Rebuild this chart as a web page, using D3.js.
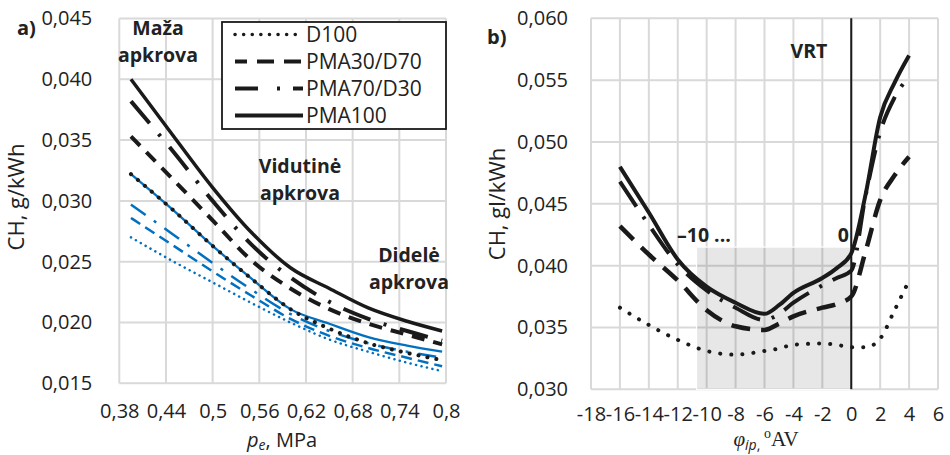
<!DOCTYPE html>
<html>
<head>
<meta charset="utf-8">
<script src="https://cdn.jsdelivr.net/npm/d3@7"></script>
<style>
    body { margin: 0; background: #fff; }
    svg text { font-family: "Open Sans", sans-serif; fill: #222; }
</style>
</head>
<body>
<svg id="chart" width="950" height="455"></svg>
<script>

// ---- panel a) : CH vs pe, MPa
const peValues = [0.395, 0.45, 0.5, 0.55, 0.6, 0.65, 0.7, 0.75, 0.795];
const peTicks = [0.38, 0.44, 0.5, 0.56, 0.62, 0.68, 0.74, 0.8];
const chTicksA = [0.015, 0.020, 0.025, 0.030, 0.035, 0.040, 0.045];

const aD100 = [0.0322, 0.0292, 0.0263, 0.0236, 0.0211, 0.0195, 0.0183, 0.0175, 0.0169];
const aPMA30 = [0.0353, 0.0317, 0.0284, 0.0251, 0.0228, 0.0211, 0.0199, 0.0190, 0.0182];
const aPMA70 = [0.0382, 0.0340, 0.0300, 0.0264, 0.0237, 0.0217, 0.0203, 0.0193, 0.0185];
const aPMA100 = [0.0400, 0.0353, 0.0311, 0.0274, 0.0245, 0.0228, 0.0212, 0.0201, 0.0193];

// blue family
const aD100b = [0.0270, 0.0250, 0.0233, 0.0216, 0.0200, 0.0186, 0.0176, 0.0167, 0.0160];
const aPMA30b = [0.0286, 0.0263, 0.0242, 0.0222, 0.0203, 0.0189, 0.0179, 0.0171, 0.0164];
const aPMA70b = [0.0297, 0.0272, 0.0249, 0.0227, 0.0207, 0.0193, 0.0183, 0.0176, 0.0171];
const aPMA100b = [0.0322, 0.0292, 0.0263, 0.0236, 0.0211, 0.0199, 0.0188, 0.0181, 0.0176];

// ---- panel b) : CH vs injection timing
const phiValues = [-16, -14, -12, -10, -8, -6, -5, -4, -2, -1, 0, 1, 2, 3, 4];
const phiTicks = [-18, -16, -14, -12, -10, -8, -6, -4, -2, 0, 2, 4, 6];
const chTicksB = [0.030, 0.035, 0.040, 0.045, 0.050, 0.055, 0.060];

const bD100 = [0.0366, 0.0352, 0.0340, 0.0331, 0.0328, 0.0331, 0.0333, 0.0336, 0.0337, 0.0336, 0.0334, 0.0334, 0.0341, 0.0364, 0.0388];
const bPMA30 = [0.0432, 0.0409, 0.0388, 0.0364, 0.0351, 0.0348, 0.0353, 0.0359, 0.0366, 0.0369, 0.0375, 0.0412, 0.0453, 0.0473, 0.0488];
const bPMA70 = [0.0468, 0.0433, 0.0401, 0.0380, 0.0366, 0.0356, 0.0361, 0.0370, 0.0384, 0.0390, 0.0396, 0.0457, 0.0508, 0.0536, 0.0553];
const bPMA100 = [0.0480, 0.0443, 0.0405, 0.0383, 0.0370, 0.0361, 0.0368, 0.0378, 0.0390, 0.0398, 0.0410, 0.0458, 0.0520, 0.0548, 0.0570];

const legendNames = ["D100", "PMA30/D70", "PMA70/D30", "PMA100"];
const shadePhi = [-10.7, 0];
const shadeTop = 0.0415;

const localeFormatter = d3.formatLocale({decimal: ",", thousands: ".", grouping: [3], currency: ["", "€"]});
const chFormatter = localeFormatter.format(".3f");
const peFormatter = localeFormatter.format("~g");

const blue = "#0070c0";
const gridColor = "#d9d9d9";

// line styles: solid, dashed, dash-dot, dotted
const styleA = {
    "D100": {dash: "0.1,9", cap: "round", w: 4},
    "PMA30/D70": {dash: "13,9", cap: "butt", w: 4},
    "PMA70/D30": {dash: "29,14,3,14", cap: "butt", w: 4},
    "PMA100": {dash: null, cap: "butt", w: 3.5}
};
const styleABlue = {
    "D100": {dash: "0.1,5.5", cap: "round", w: 2.5},
    "PMA30/D70": {dash: "11,6", cap: "butt", w: 2.5},
    "PMA70/D30": {dash: "18,10,3,10", cap: "butt", w: 2.5},
    "PMA100": {dash: null, cap: "butt", w: 2.3}
};
const styleB = {
    "D100": {dash: "0.1,11", cap: "round", w: 4},
    "PMA30/D70": {dash: "19,11", cap: "butt", w: 4.5},
    "PMA70/D30": {dash: "30,12,3,12", cap: "butt", w: 4},
    "PMA100": {dash: null, cap: "butt", w: 4}
};
const styleLegend = {
    "D100": {dash: "0.1,8.5", cap: "round", w: 3.5, off: 0},
    "PMA30/D70": {dash: "17,10", cap: "butt", w: 4, off: 5},
    "PMA70/D30": {dash: "23,19,3,13", cap: "butt", w: 4, off: 0},
    "PMA100": {dash: null, cap: "butt", w: 4, off: 0}
};

const svg = d3.select("#chart");

drawPanelA();
drawPanelB();

function drawGrid(g, x, y, xTicks, yTicks) {
    g.append("g").selectAll("line").data(xTicks).join("line")
        .attr("x1", d => x(d)).attr("x2", d => x(d))
        .attr("y1", y.range()[0]).attr("y2", y.range()[1])
        .attr("stroke", gridColor).attr("stroke-width", 2);
    g.append("g").selectAll("line").data(yTicks).join("line")
        .attr("y1", d => y(d)).attr("y2", d => y(d))
        .attr("x1", x.range()[0]).attr("x2", x.range()[1])
        .attr("stroke", gridColor).attr("stroke-width", 2);
}

function drawAxes(g, x, y, xTicks, yTicks, xFmt, xPad, yPad) {
    const xa = g.append("g").attr("transform", `translate(0,${y.range()[0]})`)
        .call(d3.axisBottom(x).tickValues(xTicks).tickFormat(xFmt).tickSize(0).tickPadding(xPad));
    const ya = g.append("g").attr("transform", `translate(${x.range()[0]},0)`)
        .call(d3.axisLeft(y).tickValues(yTicks).tickFormat(chFormatter).tickSize(0).tickPadding(yPad));
    [xa, ya].forEach(a => {
        a.select(".domain").remove();
        a.attr("font-family", null).attr("font-size", null);
        a.selectAll("text").style("font-size", "20px").attr("fill", "#222");
    });
}

function drawSeries(g, x, y, xs, ys, st, color) {
    const line = d3.line().x((d, i) => x(xs[i])).y(d => y(d)).curve(d3.curveMonotoneX);
    g.append("path").attr("d", line(ys))
        .attr("fill", "none").attr("stroke", color)
        .attr("stroke-width", st.w)
        .attr("stroke-linecap", st.cap)
        .attr("stroke-dasharray", st.dash);
}

function drawPanelA() {
    const x = d3.scaleLinear().domain([0.38, 0.8]).range([119.3, 446]);
    const y = d3.scaleLinear().domain([0.015, 0.045]).range([383.3, 18.5]);
    const g = svg.append("g").attr("class", "panel-a");

    drawGrid(g, x, y, peTicks, chTicksA);
    drawAxes(g, x, y, peTicks, chTicksA, peFormatter, 21, 27);

    const blueSeries = [aD100b, aPMA30b, aPMA70b, aPMA100b];
    const blackSeries = [aD100, aPMA30, aPMA70, aPMA100];
    legendNames.forEach((n, i) => drawSeries(g, x, y, peValues, blueSeries[i], styleABlue[n], blue));
    legendNames.forEach((n, i) => drawSeries(g, x, y, peValues, blackSeries[i], styleA[n], "#1a1a1a"));

    // legend
    const lg = g.append("g").attr("class", "legend");
    lg.append("rect").attr("x", 222).attr("y", 22).attr("width", 224).attr("height", 107)
        .attr("fill", "#fff").attr("stroke", "#1a1a1a").attr("stroke-width", 1.8);
    const rows = lg.selectAll("g.row").data(legendNames).join("g").attr("class", "row")
        .attr("transform", (d, i) => `translate(0,${34.5 + i * 27})`);
    rows.append("line").attr("x1", 235).attr("x2", 303).attr("y1", 0).attr("y2", 0)
        .attr("stroke", "#1a1a1a")
        .attr("stroke-width", d => styleLegend[d].w)
        .attr("stroke-linecap", d => styleLegend[d].cap)
        .attr("stroke-dasharray", d => styleLegend[d].dash)
        .attr("stroke-dashoffset", d => styleLegend[d].off);
    rows.append("text").attr("x", 306).attr("y", 0).attr("dy", "0.36em")
        .style("font-size", "21px").text(d => d);

    // annotations
    const ann = [
        {t: "Maža", x: 158, y: 35}, {t: "apkrova", x: 158, y: 62},
        {t: "Vidutinė", x: 300, y: 173}, {t: "apkrova", x: 300, y: 200},
        {t: "Didelė", x: 409, y: 262}, {t: "apkrova", x: 409, y: 289}
    ];
    g.append("g").selectAll("text").data(ann).join("text")
        .attr("x", d => d.x).attr("y", d => d.y)
        .attr("text-anchor", "middle")
        .style("font-size", "19.5px").style("font-weight", "bold")
        .text(d => d.t);

    g.append("text").attr("x", 17).attr("y", 35)
        .style("font-size", "20px").style("font-weight", "bold").text("a)");

    g.append("text").attr("transform", "translate(24,197) rotate(-90)")
        .attr("text-anchor", "middle").style("font-size", "22px").text("CH, g/kWh");

    const xt = g.append("text").attr("x", 282).attr("y", 447)
        .attr("text-anchor", "middle").style("font-size", "20px");
    xt.append("tspan").style("font-style", "italic").text("p");
    xt.append("tspan").style("font-style", "italic").style("font-size", "14px").attr("dy", 3).text("e");
    xt.append("tspan").attr("dy", -3).text(", MPa");
}

function drawPanelB() {
    const x = d3.scaleLinear().domain([-18, 6]).range([591, 938]);
    const y = d3.scaleLinear().domain([0.030, 0.060]).range([389.3, 18.3]);
    const g = svg.append("g").attr("class", "panel-b");

    drawGrid(g, x, y, phiTicks, chTicksB);

    // shaded -10 ... 0 range
    g.append("rect")
        .attr("x", x(shadePhi[0])).attr("width", x(shadePhi[1]) - x(shadePhi[0]))
        .attr("y", y(shadeTop)).attr("height", y(0.030) - y(shadeTop))
        .attr("fill", "#000").attr("fill-opacity", 0.095)
        .attr("stroke", "#fff").attr("stroke-width", 1.2);

    drawAxes(g, x, y, phiTicks, chTicksB, d => String(d), 18, 23);

    // VRT line at 0
    g.append("line").attr("x1", x(0)).attr("x2", x(0))
        .attr("y1", y(0.030)).attr("y2", y(0.060))
        .attr("stroke", "#1a1a1a").attr("stroke-width", 2);

    const series = [bD100, bPMA30, bPMA70, bPMA100];
    legendNames.forEach((n, i) => drawSeries(g, x, y, phiValues, series[i], styleB[n], "#1a1a1a"));

    const ann = [
        {t: "VRT", x: 809, y: 58, a: "middle"},
        {t: "–10 ...", x: 677, y: 242, a: "start"},
        {t: "0", x: 849, y: 242, a: "end"}
    ];
    g.append("g").selectAll("text").data(ann).join("text")
        .attr("x", d => d.x).attr("y", d => d.y)
        .attr("text-anchor", d => d.a)
        .style("font-size", "19.5px").style("font-weight", "bold")
        .text(d => d.t);

    g.append("text").attr("x", 487).attr("y", 44)
        .style("font-size", "20px").style("font-weight", "bold").text("b)");

    g.append("text").attr("transform", "translate(505,204) rotate(-90)")
        .attr("text-anchor", "middle").style("font-size", "22px").text("CH, gl/kWh");

    const xt = g.append("text").attr("x", 766).attr("y", 446)
        .attr("text-anchor", "middle").style("font-size", "21px");
    xt.append("tspan").style("font-family", "'Liberation Serif', serif").style("font-style", "italic").text("φ");
    xt.append("tspan").style("font-style", "italic").style("font-size", "14px").attr("dy", 4).text("ip");
    xt.append("tspan").style("font-size", "14px").text(", ");
    xt.append("tspan").style("font-family", "'Liberation Serif', serif").style("font-size", "14px").attr("dy", -12).text("o");
    xt.append("tspan").style("font-family", "'Liberation Serif', serif").attr("dy", 8).text("AV");
}

</script>
</body>
</html>
